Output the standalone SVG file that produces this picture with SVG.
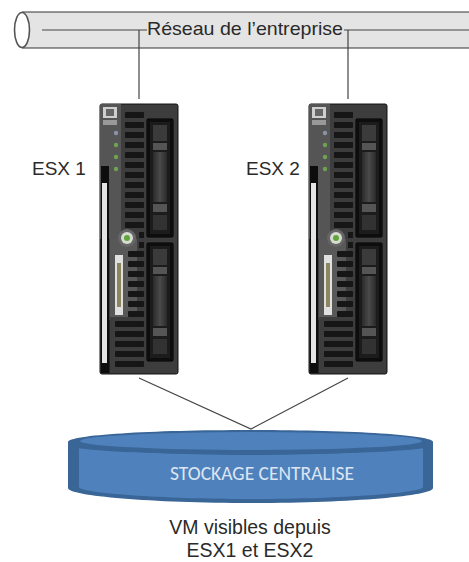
<svg xmlns="http://www.w3.org/2000/svg" width="469" height="562" viewBox="0 0 469 562">
<style>
text{font-family:"Liberation Sans",Arial,sans-serif;fill:#2a2a2a}
.l{font-size:19px}
.c{fill:none;stroke:#444;stroke-width:1.2}
.v{fill:#151515}
.bay{fill:#111;stroke:#000}
</style>
<defs>
<filter id="soft" x="-5%" y="-5%" width="110%" height="110%"><feGaussianBlur stdDeviation="0.4"/></filter>
<linearGradient id="hd" x1="0" x2="1" y1="0" y2="0"><stop offset="0" stop-color="#2a2a2a"/><stop offset=".5" stop-color="#4a4a4a"/><stop offset="1" stop-color="#2a2a2a"/></linearGradient>
<g id="drive">
<rect class="bay" x="147" y="0" width="26" height="118" rx="1"/>
<rect x="150" y="3" width="20" height="112" fill="#1d1d1d"/>
<rect x="153" y="6" width="14" height="16" fill="#3a3a3a"/>
<rect x="153" y="24" width="14" height="7" fill="#555"/>
<rect x="153" y="33" width="14" height="50" fill="url(#hd)"/>
<rect x="153" y="85" width="14" height="8" fill="#555"/>
<rect x="153" y="96" width="14" height="15" fill="#333"/>
</g>
<g id="blade" filter="url(#soft)">
<rect x="100" y="104" width="78" height="270" rx="2" fill="#3c3c3c" stroke="#111"/>
<rect x="100" y="104" width="21" height="135" fill="#555"/>
<rect x="110" y="239" width="27" height="78" fill="#585858"/>
<rect x="101" y="166" width="8" height="207" fill="#0c0c0c"/>
<rect x="102" y="183" width="5" height="180" fill="#e4e4e4"/>
<rect x="109" y="320" width="1" height="54" fill="#222"/>
<rect x="103" y="107" width="14" height="11" fill="#cfcfcf"/>
<rect x="106" y="109" width="8" height="7" fill="#666"/>
<rect x="103" y="120" width="14" height="5" fill="#999"/>
<circle cx="116" cy="133" r="2.2" fill="#8a93a5"/>
<circle cx="116" cy="145" r="2.2" fill="#6fa34f"/>
<circle cx="116" cy="157" r="2.2" fill="#6fa34f"/>
<circle cx="116" cy="169" r="2.2" fill="#6fa34f"/>
<circle cx="127" cy="238" r="9" fill="#666"/>
<circle cx="127" cy="238" r="6" fill="#d8dcd0"/>
<circle cx="127" cy="238" r="3" fill="#5fa53a"/>
<rect x="115" y="255" width="8" height="60" fill="#e0e0e0"/>
<rect x="117" y="263" width="4" height="44" fill="#8c8660"/>
<g class="v">
<rect x="125" y="112" width="19" height="6" rx="1"/><rect x="125" y="122" width="19" height="6" rx="1"/>
<rect x="125" y="132" width="19" height="6" rx="1"/><rect x="125" y="142" width="19" height="6" rx="1"/>
<rect x="125" y="152" width="19" height="6" rx="1"/><rect x="125" y="162" width="19" height="6" rx="1"/>
<rect x="125" y="172" width="19" height="6" rx="1"/><rect x="125" y="182" width="19" height="6" rx="1"/>
<rect x="125" y="192" width="19" height="6" rx="1"/><rect x="125" y="202" width="19" height="6" rx="1"/>
<rect x="125" y="212" width="19" height="6" rx="1"/><rect x="125" y="222" width="19" height="6" rx="1"/>
<rect x="139" y="232" width="5" height="6"/><rect x="139" y="242" width="5" height="6"/>
<rect x="128" y="251" width="16" height="6" rx="1"/><rect x="128" y="261" width="16" height="6" rx="1"/>
<rect x="128" y="271" width="16" height="6" rx="1"/><rect x="128" y="281" width="16" height="6" rx="1"/>
<rect x="128" y="291" width="16" height="6" rx="1"/><rect x="128" y="301" width="16" height="6" rx="1"/>
<rect x="128" y="311" width="16" height="6" rx="1"/>
<rect x="115" y="321" width="29" height="6" rx="1"/><rect x="115" y="331" width="29" height="6" rx="1"/>
<rect x="115" y="341" width="29" height="6" rx="1"/><rect x="115" y="351" width="29" height="6" rx="1"/>
<rect x="115" y="361" width="29" height="6" rx="1"/>
</g>
<use href="#drive" y="119"/>
<use href="#drive" y="243"/>
</g>
</defs>
<g id="network">
<path d="M22 12H469V48H22Z" fill="#e4e4e4"/>
<path d="M469 12H22M22 48H469" fill="none" stroke="#333"/>
<ellipse cx="22" cy="30" rx="7.5" ry="17.5" fill="#fff" stroke="#555" stroke-width="1.6"/>
<text class="l" x="147" y="35" textLength="196" lengthAdjust="spacingAndGlyphs">Réseau de l’entreprise</text>
</g>
<g id="connectors">
<path class="c" d="M42 30H147M139 30V99"/>
<path class="c" d="M344 30H469M348 30V99"/>
<path class="c" d="M139 378L251 429L348 378"/>
</g>
<g id="esx1"><use href="#blade"/><text class="l" x="32" y="175">ESX 1</text></g>
<g id="esx2"><use href="#blade" x="209"/><text class="l" x="246" y="175">ESX 2</text></g>
<g id="storage">
<path d="M68 442C68 435 150 430 251 430S433 435 433 442V488C433 496 350 503 251 503S68 496 68 488Z" fill="#3a6597"/>
<path d="M79 447C110 451 180 455 251 455S392 451 423 447V487C423 493 340 499 251 499S79 493 79 487Z" fill="#4f81bd"/>
<path d="M79 447C110 451 180 453 251 453S392 451 423 447" fill="none" stroke="#3a6597" stroke-width="2.5"/>
<ellipse cx="251" cy="441" rx="171" ry="9" fill="#4f81bd"/>
<text x="262" y="480" text-anchor="middle" font-size="19.5" style="fill:#dce6f2;font-family:'Carlito','Open Sans',sans-serif">STOCKAGE CENTRALISE</text>
</g>
<g id="caption">
<text x="250" y="534" text-anchor="middle" font-size="19.5">VM visibles depuis</text>
<text x="250" y="557" text-anchor="middle" font-size="19.5">ESX1 et ESX2</text>
</g>
</svg>
